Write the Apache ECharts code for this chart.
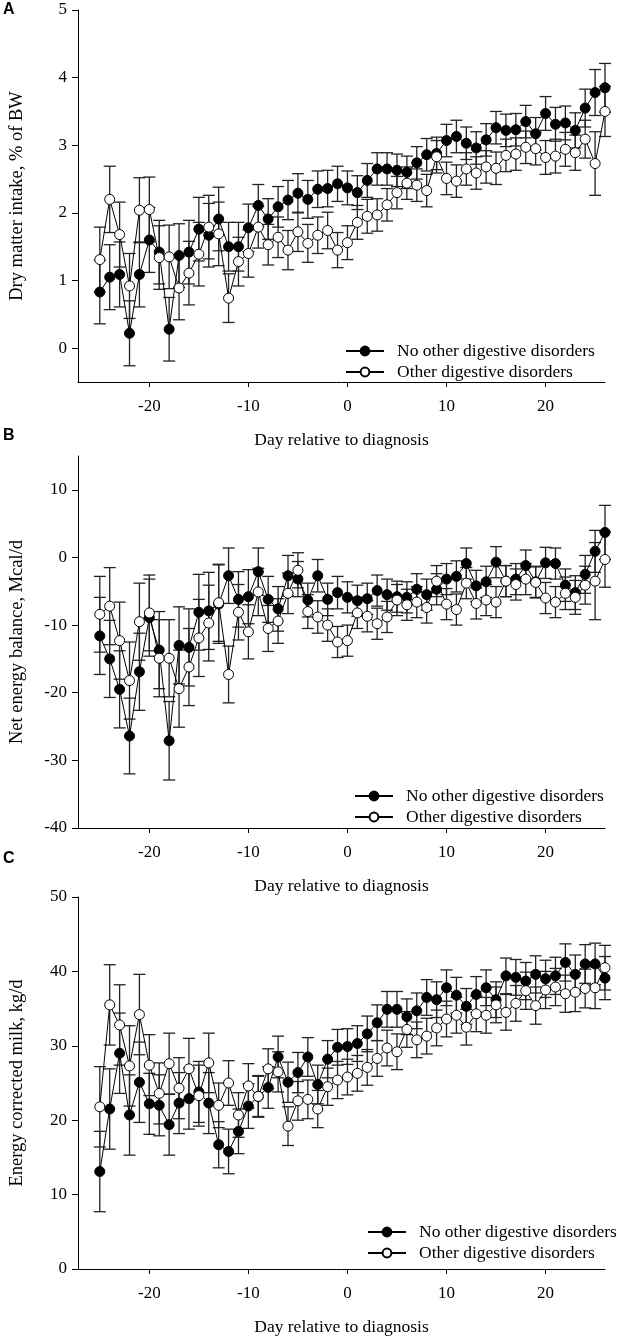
<!DOCTYPE html>
<html>
<head>
<meta charset="utf-8">
<script src="https://cdn.jsdelivr.net/npm/echarts@6/dist/echarts.min.js"></script>
<style>
  html, body { margin: 0; padding: 0; background: #fff; }
  #main { width: 618px; height: 1339px; }
</style>
</head>
<body>
<div id="main"></div>
<script>
// days relative to diagnosis
var days = [-25,-24,-23,-22,-21,-20,-19,-18,-17,-16,-15,-14,-13,-12,-11,-10,-9,-8,-7,-6,-5,-4,-3,-2,-1,
  0,1,2,3,4,5,6,7,8,9,10,11,12,13,14,15,16,17,18,19,20,21,22,23,24,25,26];

// A: dry matter intake, % of BW
var dmiNo = [0.83,1.05,1.09,0.22,1.09,1.60,1.42,0.28,1.37,1.42,1.76,1.67,1.91,1.50,1.50,1.78,2.11,1.91,2.09,2.19,2.29,2.20,2.35,2.36,2.43,
  2.37,2.30,2.48,2.65,2.65,2.63,2.60,2.74,2.86,2.88,3.07,3.13,3.03,2.96,3.08,3.26,3.22,3.23,3.35,3.17,3.47,3.31,3.33,3.22,3.55,3.78,3.85];
var dmiNoSe = [0.47,0.48,0.48,0.48,0.48,0.48,0.47,0.47,0.47,0.47,0.47,0.47,0.47,0.36,0.36,0.35,0.31,0.30,0.30,0.29,0.29,0.28,0.27,0.27,0.26,
  0.25,0.25,0.25,0.24,0.24,0.24,0.24,0.24,0.24,0.24,0.24,0.24,0.24,0.24,0.24,0.24,0.24,0.24,0.24,0.24,0.25,0.25,0.25,0.26,0.28,0.34,0.36];
var dmiOther = [1.31,2.20,1.68,0.92,2.04,2.05,1.34,1.35,0.89,1.11,1.39,1.79,1.69,0.74,1.28,1.40,1.79,1.53,1.64,1.45,1.72,1.55,1.67,1.74,1.45,
  1.56,1.86,1.95,1.97,2.12,2.30,2.44,2.41,2.33,2.83,2.51,2.47,2.65,2.59,2.68,2.66,2.85,2.87,2.97,2.95,2.82,2.84,2.94,2.89,3.09,2.73,3.50];
var dmiOtherSe = [0.48,0.49,0.48,0.48,0.48,0.48,0.47,0.47,0.47,0.47,0.47,0.47,0.47,0.36,0.36,0.35,0.31,0.30,0.30,0.29,0.29,0.28,0.27,0.27,0.26,
  0.25,0.25,0.25,0.24,0.24,0.24,0.24,0.24,0.24,0.24,0.24,0.24,0.24,0.24,0.24,0.24,0.24,0.24,0.24,0.24,0.25,0.25,0.25,0.26,0.28,0.47,0.37];

// B: net energy balance, Mcal/d
var nebNo = [-11.6,-15.0,-19.5,-26.4,-16.9,-8.9,-13.7,-27.1,-13.0,-13.3,-8.1,-7.9,-6.9,-2.7,-6.2,-5.8,-2.1,-6.2,-7.6,-2.7,-3.2,-6.3,-2.7,-6.2,-5.2,
  -5.9,-6.4,-6.1,-4.9,-5.5,-5.8,-5.9,-4.7,-5.5,-4.7,-3.2,-2.8,-0.9,-4.2,-3.6,-0.7,-3.5,-3.2,-1.2,-3.6,-0.8,-0.9,-4.1,-5.2,-2.5,0.9,3.7];
var nebNoSe = [5.7,5.7,5.7,5.6,5.7,5.7,5.7,5.8,5.7,5.7,5.6,5.7,5.8,4.1,4.1,4.0,3.5,3.4,3.3,3.0,2.6,2.5,2.4,2.4,2.4,
  2.3,2.3,2.3,2.3,2.3,2.3,2.3,2.3,2.3,2.3,2.3,2.3,2.3,2.3,2.3,2.3,2.3,2.3,2.3,2.3,2.3,2.3,2.4,2.5,2.8,3.1,4.0];
var nebOther = [-8.4,-7.2,-12.3,-18.2,-9.5,-8.2,-14.9,-14.9,-19.4,-16.2,-11.9,-9.7,-6.7,-17.3,-8.1,-11.0,-5.1,-10.5,-9.4,-5.3,-1.9,-8.0,-8.8,-10.0,-12.5,
  -12.3,-8.2,-8.7,-9.8,-8.8,-6.3,-7.0,-6.6,-7.4,-3.5,-6.9,-7.7,-3.8,-6.8,-6.3,-6.6,-3.5,-4.0,-3.2,-3.7,-6.0,-6.6,-5.3,-5.9,-4.1,-3.5,-0.3];
var nebOtherSe = [5.6,5.7,5.7,5.7,5.7,5.6,5.7,5.7,5.7,5.7,5.7,5.6,5.7,4.2,4.1,4.0,3.5,3.4,3.3,3.0,2.6,2.5,2.4,2.4,2.3,
  2.3,2.3,2.3,2.3,2.3,2.3,2.3,2.3,2.3,2.3,2.3,2.3,2.3,2.3,2.3,2.3,2.3,2.3,2.3,2.3,2.3,2.3,2.4,2.5,2.8,5.7,4.1];

// C: energy corrected milk, kg/d
var ecmNo = [13.1,21.5,29.0,20.7,25.1,22.2,22.0,19.4,22.3,22.9,23.8,22.3,16.7,15.8,18.5,21.9,23.2,24.4,28.5,25.1,26.4,28.5,24.8,28.2,29.8,
  29.9,30.3,31.6,33.1,34.9,34.9,33.9,34.7,36.5,36.2,37.8,36.8,35.3,36.9,37.8,36.2,39.4,39.2,38.7,39.6,39.0,39.4,41.2,39.6,41.0,41.0,39.1];
var ecmNoSe = [5.4,5.4,5.4,5.4,5.4,4.1,4.1,4.1,4.1,4.1,4.1,4.1,3.1,3.0,3.0,3.0,2.8,2.8,2.8,2.7,2.7,2.6,2.6,2.5,2.4,
  2.4,2.4,2.4,2.4,2.4,2.4,2.4,2.4,2.4,2.4,2.4,2.4,2.4,2.4,2.4,2.4,2.4,2.4,2.5,2.5,2.5,2.5,2.5,2.6,2.6,2.8,2.9];
var ecmOther = [21.8,35.5,32.8,27.3,34.2,27.4,23.6,27.6,24.3,26.9,23.3,27.7,22.0,25.0,20.7,24.6,23.2,26.9,26.5,19.2,22.6,22.8,21.5,24.5,25.4,
  25.8,26.3,27.1,28.3,29.7,29.2,32.2,30.8,31.3,32.4,33.6,34.1,32.5,34.3,34.1,35.5,34.5,35.7,37.4,35.4,37.5,37.9,37.0,37.2,37.7,37.8,40.5];
var ecmOtherSe = [5.4,5.4,5.4,5.4,5.4,4.1,4.1,4.1,4.1,4.1,4.1,4.0,3.0,3.0,3.0,3.0,2.7,2.7,2.7,2.6,2.6,2.6,2.5,2.5,2.5,
  2.4,2.4,2.4,2.4,2.4,2.4,2.4,2.4,2.4,2.4,2.4,2.4,2.4,2.4,2.4,2.4,2.4,2.4,2.5,2.5,2.5,2.5,2.5,2.6,2.6,2.8,3.0];

// tick labels
var xTicks = [-20, -10, 0, 10, 20];
var dmiTicks = [0, 1, 2, 3, 4, 5];
var nebTicks = [-40, -30, -20, -10, 0, 10];
var ecmTicks = [0, 10, 20, 30, 40, 50];

var nameNo = 'No other digestive disorders';
var nameOther = 'Other digestive disorders';
var serif = 'Liberation Serif, Times New Roman, serif';

var myChart = echarts.init(document.getElementById('main'));

function pairs(m) {
  return days.map(function (d, i) { return [d, m[i]]; });
}
function bars(m, se) {
  return days.map(function (d, i) { return [d, m[i] - se[i], m[i] + se[i]]; });
}

// vertical error bar with caps
function renderErr(params, api) {
  var x = api.value(0);
  var lo = api.coord([x, api.value(1)]);
  var hi = api.coord([x, api.value(2)]);
  var w = 6;
  var st = { stroke: '#222', lineWidth: 1.3 };
  return {
    type: 'group',
    children: [
      { type: 'line', shape: { x1: lo[0], y1: lo[1], x2: hi[0], y2: hi[1] }, style: st },
      { type: 'line', shape: { x1: lo[0] - w, y1: lo[1], x2: lo[0] + w, y2: lo[1] }, style: st },
      { type: 'line', shape: { x1: hi[0] - w, y1: hi[1], x2: hi[0] + w, y2: hi[1] }, style: st }
    ]
  };
}

var tops = [10, 456, 897];
var gridH = 372;
var yMins = [-0.5, -40, 0];
var yMaxs = [5, 15, 50];
var yTicks = [dmiTicks, nebTicks, ecmTicks];
var yNames = ['Dry matter intake, % of BW', 'Net energy balance, Mcal/d', 'Energy corrected milk, kg/d'];
var panels = [
  [dmiNo, dmiNoSe, dmiOther, dmiOtherSe],
  [nebNo, nebNoSe, nebOther, nebOtherSe],
  [ecmNo, ecmNoSe, ecmOther, ecmOtherSe]
];
var legendPos = [[345, 342], [354, 787], [367, 1223]];
var letters = ['A', 'B', 'C'];
var letterY = [11, 437, 860];

var grids = [], xAxes = [], yAxes = [], series = [], legends = [], graphics = [];

panels.forEach(function (p, k) {
  grids.push({ left: 73, width: 532, top: tops[k], height: gridH, containLabel: false });
  xAxes.push({
    type: 'value', gridIndex: k, min: -27.2, max: 26,
    name: 'Day relative to diagnosis', nameLocation: 'middle', nameGap: 49,
    nameTextStyle: { fontFamily: serif, fontSize: 17.5, color: '#000' },
    axisLine: { onZero: false, lineStyle: { color: '#000', width: 1 } },
    axisTick: { show: true, length: 5, lineStyle: { color: '#000' }, customValues: xTicks },
    axisLabel: { margin: 16, fontFamily: serif, fontSize: 17, color: '#000', customValues: xTicks },
    splitLine: { show: false }
  });
  yAxes.push({
    type: 'value', gridIndex: k, min: yMins[k], max: yMaxs[k],
    name: yNames[k], nameLocation: 'middle', nameGap: 51,
    nameTextStyle: { fontFamily: serif, fontSize: 18.5, color: '#000' },
    axisLine: { show: true, onZero: false, lineStyle: { color: '#000', width: 1 } },
    axisTick: { show: true, length: 6, lineStyle: { color: '#000' }, customValues: yTicks[k] },
    axisLabel: { margin: 11, fontFamily: serif, fontSize: 17, color: '#000', customValues: yTicks[k] },
    splitLine: { show: false }
  });
  series.push({
    type: 'custom', name: 'seNo' + k, xAxisIndex: k, yAxisIndex: k, z: 1,
    renderItem: renderErr, encode: { x: 0, y: [1, 2] }, data: bars(p[0], p[1]), silent: true
  });
  series.push({
    type: 'custom', name: 'seOther' + k, xAxisIndex: k, yAxisIndex: k, z: 1,
    renderItem: renderErr, encode: { x: 0, y: [1, 2] }, data: bars(p[2], p[3]), silent: true
  });
  series.push({
    type: 'line', name: nameNo, xAxisIndex: k, yAxisIndex: k, z: 2,
    data: pairs(p[0]), symbol: 'circle', symbolSize: 10, showAllSymbol: true,
    lineStyle: { color: '#000', width: 1 },
    itemStyle: { color: '#000', borderColor: '#000', borderWidth: 1 },
    animation: false
  });
  series.push({
    type: 'line', name: nameOther, xAxisIndex: k, yAxisIndex: k, z: 3,
    data: pairs(p[2]), symbol: 'circle', symbolSize: 10, showAllSymbol: true,
    lineStyle: { color: '#000', width: 1 },
    itemStyle: { color: '#fff', borderColor: '#000', borderWidth: 1 },
    animation: false
  });
  legends.push({
    orient: 'vertical', left: legendPos[k][0], top: legendPos[k][1], padding: 0,
    itemWidth: 38, itemHeight: 11, itemGap: 3, selectedMode: false,
    data: [nameNo, nameOther],
    textStyle: { fontFamily: serif, fontSize: 17.5, color: '#000', lineHeight: 18, padding: [0, 0, 0, 8] }
  });
  graphics.push({
    type: 'text', left: 3, top: letterY[k] - 9,
    style: { text: letters[k], font: 'bold 16px Liberation Sans, Arial, sans-serif', fill: '#000' }
  });
});

var option = {
  backgroundColor: '#fff',
  animation: false,
  grid: grids,
  xAxis: xAxes,
  yAxis: yAxes,
  legend: legends,
  graphic: graphics,
  series: series
};

myChart.setOption(option);
</script>
</body>
</html>
